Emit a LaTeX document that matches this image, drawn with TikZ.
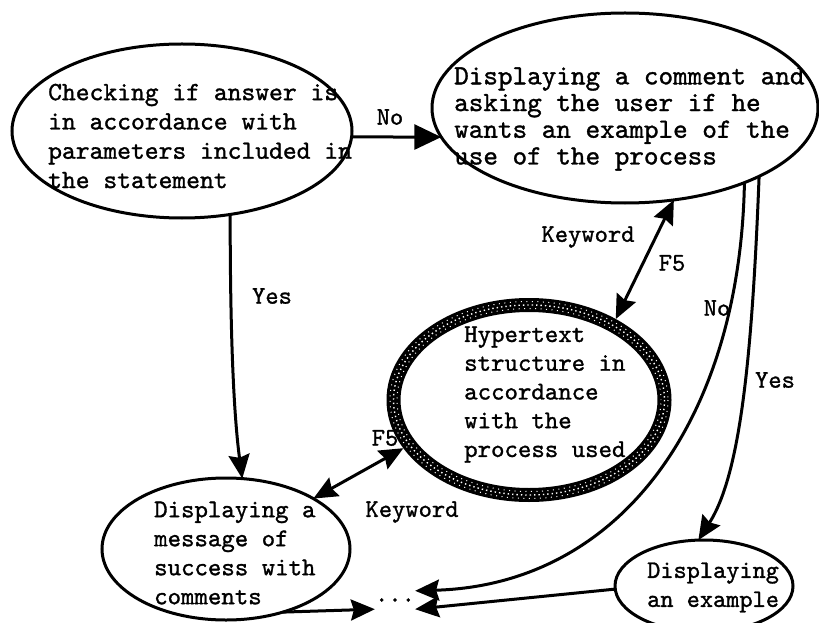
\documentclass[tikz,border=0pt]{standalone}
\usepackage{fontspec}
\newfontfamily\typed{lmmono10-regular}[Extension=.otf, FakeBold=1.2]
\usetikzlibrary{arrows.meta,shapes.geometric}
\begin{document}
\begin{tikzpicture}[x=1bp,y=-1bp]
\tikzset{
  bubble/.style={ellipse, draw, line width=3bp, inner sep=0pt, outer sep=0pt},
  anchorbox/.style={ellipse, inner sep=0pt, outer sep=0pt},
  words/.style={anchor=west, align=left, inner sep=0pt},
  lbl/.style={inner sep=0pt, font=\typed\fontsize{25.3bp}{29bp}\selectfont},
  tip/.tip={Stealth[length=24bp, width=21bp, inset=3bp]},
  link/.style={line width=3bp, -tip},
  twoway/.style={line width=3bp, tip-tip},
  bigtip/.style={line width=3bp, -{Triangle[length=27bp, width=25bp]}}
}
\useasboundingbox (0,0) rectangle (819,623);

% process bubbles
\node[bubble, minimum width=340bp, minimum height=174bp] (A) at (182,131) {};
\node[bubble, minimum width=386bp, minimum height=190bp] (B) at (625,108) {};
\node[anchorbox, minimum width=285bp, minimum height=204bp] (C) at (529,400) {};
\node[bubble, minimum width=248bp, minimum height=142bp] (D) at (226,549) {};
\node[bubble, minimum width=178bp, minimum height=92bp] (E) at (704,586) {};

% hypertext ring: heavy black band with a light speckled weave
\draw[line width=14bp] (C.center) ellipse [x radius=135.5, y radius=95];
\draw[white, line width=1.4bp, dash pattern=on 1.4bp off 3bp] (C.center) ellipse [x radius=135.5, y radius=95];
\draw[white, line width=1bp, dash pattern=on 1bp off 4.5bp, dash phase=2bp] (C.center) ellipse [x radius=132, y radius=91.5];
\draw[white, line width=1bp, dash pattern=on 1bp off 4.5bp] (C.center) ellipse [x radius=139, y radius=98.5];

% texts of the bubbles
\node[words, font=\typed\fontsize{26.3bp}{29.3bp}\selectfont] (At) at (48,136)
  {Checking if answer is\\in accordance with\\parameters included in\\the statement};
\node[words, font=\typed\fontsize{27.8bp}{26.7bp}\selectfont] (Bt) at (454,119)
  {Displaying a comment and\\asking the user if he\\wants an example of the\\use of the process};
\node[words, font=\typed\fontsize{25.6bp}{28.75bp}\selectfont] (Ct) at (464,394.5)
  {Hypertext\\structure in\\accordance\\with the\\process used};
\node[words, font=\typed\fontsize{25.6bp}{29bp}\selectfont] (Dt) at (154,553)
  {Displaying a\\message of\\success with\\comments};
\node[words, font=\typed\fontsize{25.1bp}{29bp}\selectfont] (Et) at (647,587.5)
  {Displaying\\an example};

\node[lbl, minimum width=30bp, minimum height=18bp] (dots) at (395,600) {...};

% connectors
\draw[bigtip] (A.-2.7) -- (B.189.7);
\draw[link] (A.-60) .. controls +(0,130) and +(-8,-60) .. (D.77);
\draw[twoway] (C.43.7) -- (B.-62.7);
\draw[twoway] (C.201.2) -- (D.30);
\draw[link] (B.-32.4) .. controls (740,420) and (620,585) .. (dots.north east);
\draw[link] (B.-27.7) .. controls (752,360) and (740,475) .. (E.97);
\draw[link] (E.182) -- (dots.south east);
\draw[link] (D.-48.5) -- (dots.south west);

% connector labels
\node[lbl] (lNo) at (390,117) {No};
\node[lbl] (lYes) at (272,296) {Yes};
\node[lbl] (lKwA) at (588,237) {Keyword};
\node[lbl] (lFA) at (672,263) {F5};
\node[lbl] (lNoB) at (717,308) {No};
\node[lbl] (lYesB) at (775,380) {Yes};
\node[lbl] (lFB) at (385,438) {F5};
\node[lbl] (lKwB) at (412,512) {Keyword};
\end{tikzpicture}
\end{document}
